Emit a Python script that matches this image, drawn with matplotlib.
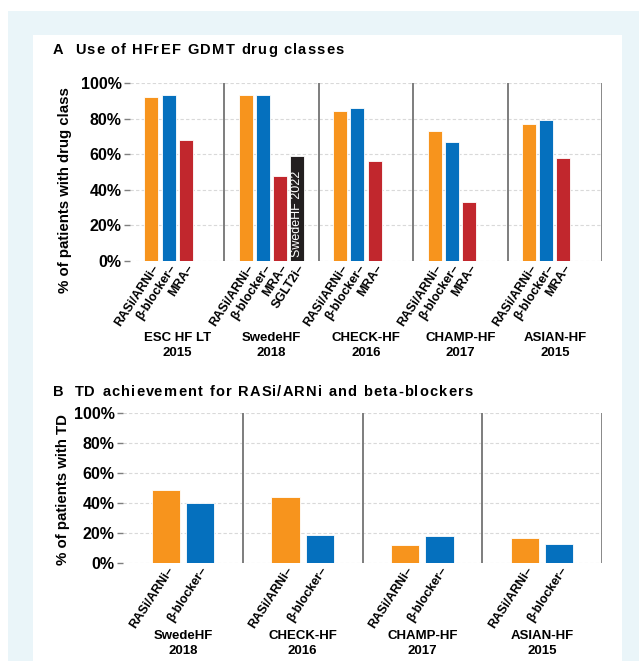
import numpy as np
import matplotlib.pyplot as plt
from matplotlib.patches import Rectangle
from matplotlib.transforms import blended_transform_factory

plt.rcParams['font.family'] = ['Liberation Sans', 'DejaVu Sans']

# panel A data
studies_a = ["ESC HF LT\n2015", "SwedeHF\n2018", "CHECK-HF\n2016", "CHAMP-HF\n2017", "ASIAN-HF\n2015"]
rasi_a = [92, 93, 84, 73, 77]
bb_a = [93, 93, 86, 67, 79]
mra_a = [68, 48, 56, 33, 58]
sglt2_a = [None, 59, None, None, None]

# panel B data
studies_b = ["SwedeHF\n2018", "CHECK-HF\n2016", "CHAMP-HF\n2017", "ASIAN-HF\n2015"]
rasi_b = [49, 44, 12, 17]
bb_b = [40, 19, 18, 13]

orange = "#F7941D"
blue = "#0570BE"
red = "#C1272D"
black = "#231F20"
sep_col = "#7f7f7f"

W, H = 639, 661
fig = plt.figure(figsize=(W / 100, H / 100), dpi=100)
fig.patches.append(Rectangle((8 / W, 0), 1 - 8 / W, 650 / H, transform=fig.transFigure,
                             facecolor="#EAF5F9", edgecolor="none", zorder=-2))
fig.patches.append(Rectangle((33 / W, 0), 589 / W, 626 / H, transform=fig.transFigure,
                             facecolor="white", edgecolor="none", zorder=-1))
renderer = fig.canvas.get_renderer()


def spaced_title(x_px, y_px, s, target_px, size):
    # letter-spaced bold title, stretched to a target width in pixels
    def width(t):
        a = fig.text(0, 0, t + ".", fontsize=size, fontweight="bold")
        b = fig.text(0, 0, ".", fontsize=size, fontweight="bold")
        w = a.get_window_extent(renderer).width - b.get_window_extent(renderer).width
        a.remove()
        b.remove()
        return w
    natural = width(s)
    gap = (target_px - natural) / (len(s) - 1)
    for i, ch in enumerate(s):
        if ch == " ":
            continue
        x = x_px + width(s[:i]) + i * gap
        fig.text(x / W, 1 - y_px / H, ch, fontsize=size, fontweight="bold", va="center", ha="left")


def style_axes(ax, ylabel, lx, ly):
    ax.set_ylim(0, 100)
    ax.set_yticks(np.arange(0, 101, 20))
    ax.set_yticklabels([f"{v}%" for v in range(0, 101, 20)], fontsize=11.5, fontweight="bold")
    ax.yaxis.grid(True, linestyle=(0, (3, 2)), color="#d9d9d9", linewidth=0.8)
    ax.set_axisbelow(True)
    for s in ["top", "left", "bottom", "right"]:
        ax.spines[s].set_visible(False)
    ax.tick_params(axis="y", length=4, color=sep_col, width=1, pad=2)
    ax.tick_params(axis="x", length=0, pad=1)
    ax.set_ylabel(ylabel, fontsize=10.8, fontweight="bold", va="center")
    ax.yaxis.set_label_coords(lx, ly)
    ax.set_facecolor("none")


def draw_panel(ax, studies, series, labels, colors, gw):
    xs, xl = [], []
    trans = blended_transform_factory(ax.transData, ax.transAxes)
    for g, name in enumerate(studies):
        x0 = g * gw
        for k, (vals, lab, c) in enumerate(zip(series, labels, colors)):
            v = vals[g]
            if v is None:
                continue
            xc = x0 + 1.25 + k
            ax.bar(xc, v, width=0.82, color=c, edgecolor="white", linewidth=0.6)
            xs.append(xc)
            xl.append(lab + "–")
        ax.axvline(x0 + gw, color=sep_col, linewidth=1.3, zorder=1)
        if g > 0:
            ax.axvline(x0, color=sep_col, linewidth=1.3, zorder=1)
    ax.set_xlim(0, gw * len(studies))
    ax.set_xticks(xs)
    ax.set_xticklabels(xl, rotation=57, ha="right", va="top", rotation_mode="anchor",
                       fontsize=9, fontweight="bold")
    return trans


# panel A
axA = fig.add_axes([130 / W, 1 - 261 / H, 472 / W, 178 / H])
style_axes(axA, "% of patients with drug class", -0.138, 0.40)
trA = draw_panel(axA, studies_a, [rasi_a, bb_a, mra_a, sglt2_a],
                 ["RASi/ARNi", "β-blocker", "MRA", "SGLT2i"], [orange, blue, red, black], 5.5)
for g, name in enumerate(studies_a):
    axA.text(g * 5.5 + 2.75, -0.475, name, transform=trA, ha="center", va="center",
             fontsize=9.5, fontweight="bold", linespacing=1.3)
axA.text(5.5 + 1.25 + 3, 2, "SwedeHF 2022", rotation=90, color="white", ha="center",
         va="bottom", fontsize=9)
spaced_title(53, 50, "A  Use of HFrEF GDMT drug classes", 291, 10.5)

# panel B
axB = fig.add_axes([123 / W, 1 - 563 / H, 479 / W, 150 / H])
style_axes(axB, "% of patients with TD", -0.125, 0.49)
trB = draw_panel(axB, studies_b, [rasi_b, bb_b], ["RASi/ARNi", "β-blocker"], [orange, blue], 3.5)
for g, name in enumerate(studies_b):
    axB.text(g * 3.5 + 1.75, -0.535, name, transform=trB, ha="center", va="center",
             fontsize=9.5, fontweight="bold", linespacing=1.3)
spaced_title(53, 392, "B  TD achievement for RASi/ARNi and beta-blockers", 420, 10.5)

fig.savefig("out.png", dpi=100)
